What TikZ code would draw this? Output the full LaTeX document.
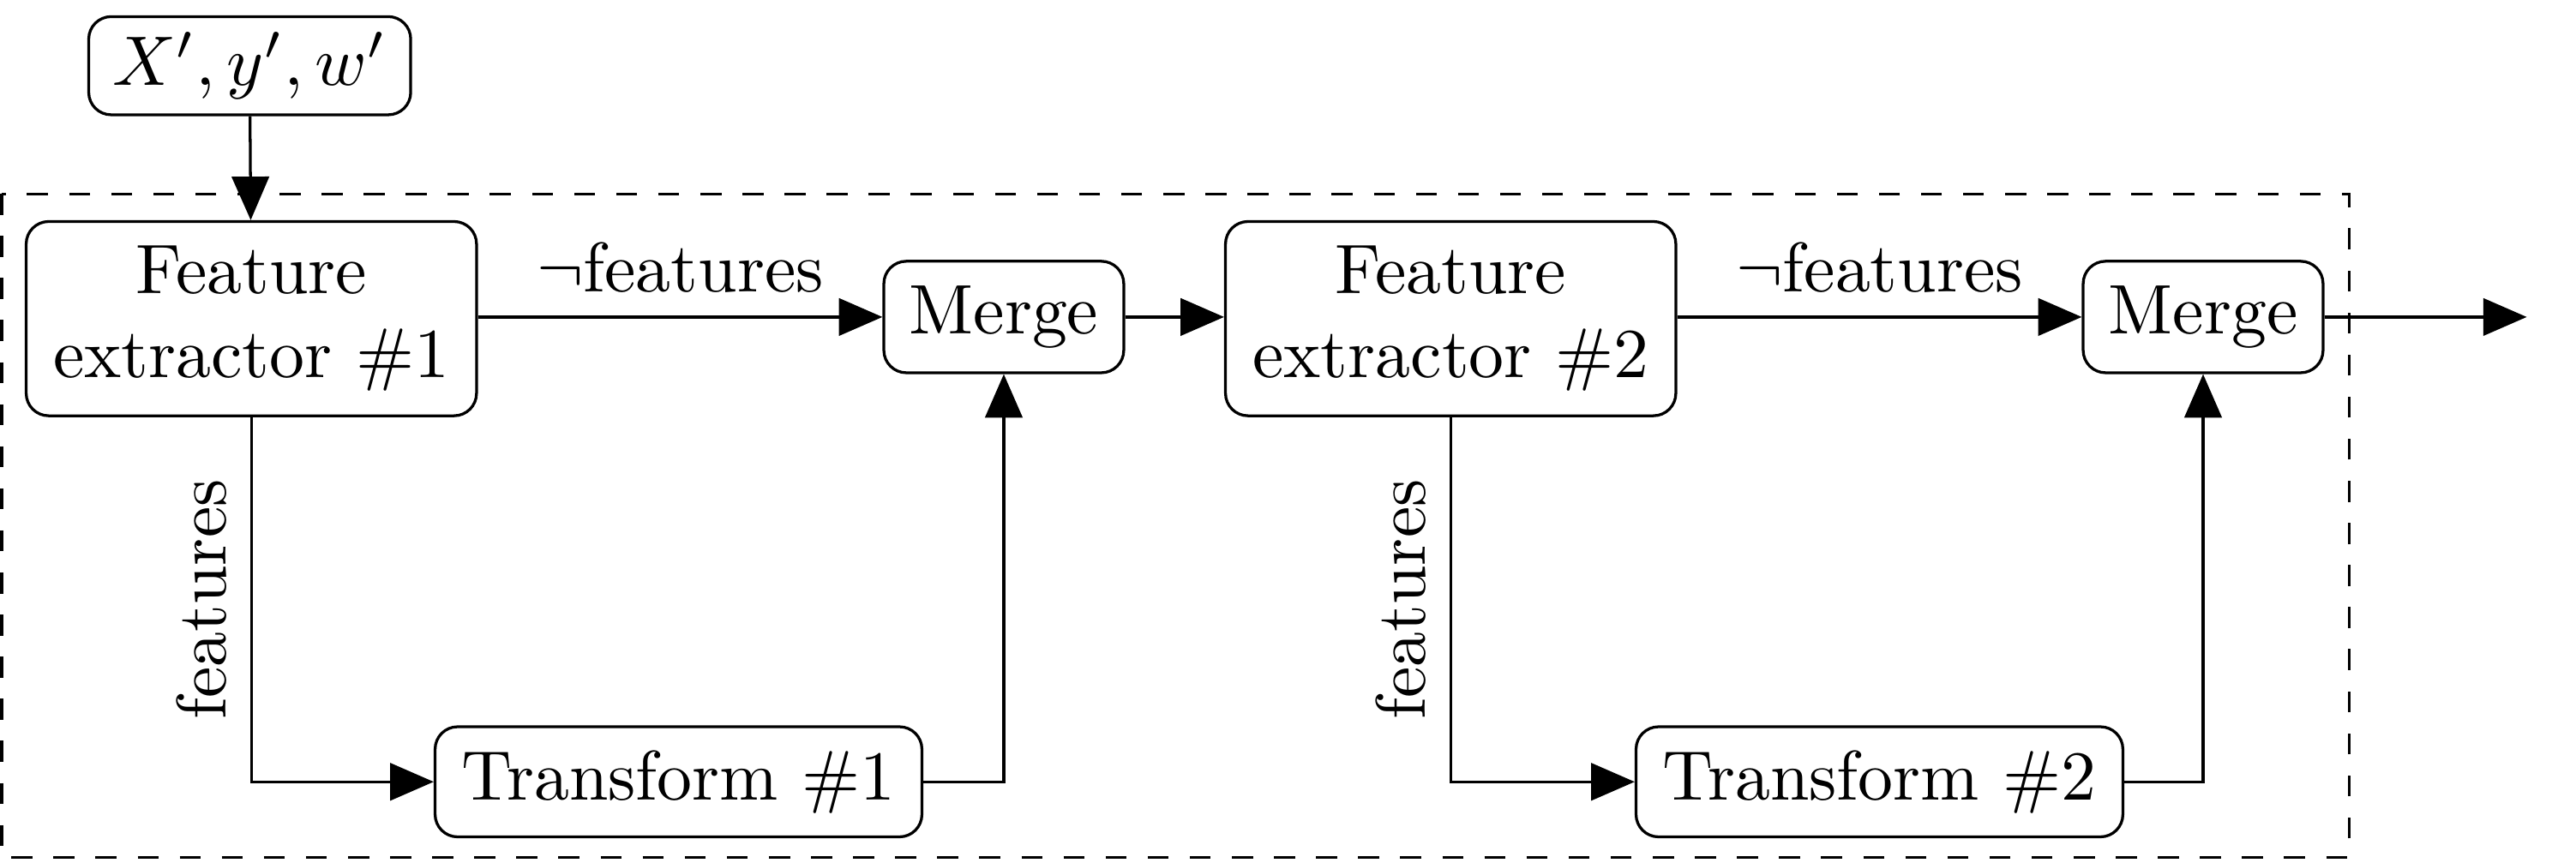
\documentclass[tikz,border=0pt]{standalone}
\usetikzlibrary{arrows.meta}
\begin{document}
\begin{tikzpicture}[x=0.2342pt,y=-0.2342pt,
  box/.style={draw, rounded corners=3.2pt, align=center, inner sep=0pt},
  febox/.style={box, minimum width=64.2pt, minimum height=27.7pt},
  mbox/.style={box, minimum width=34.2pt, minimum height=15.9pt},
  tbox/.style={box, minimum width=69.4pt, minimum height=15.7pt},
  conn/.style={-{Triangle[length=6.2pt,width=5.3pt]}},
]
\useasboundingbox (0,0) rectangle (1568,525);
\draw[dashed] (1,118) rectangle (1430,522);

\node[box, minimum width=45.9pt, minimum height=14pt] (in) at (152,40) {$X',y',w'$};
\node[febox] (fe1) at (153,194) {Feature\\extractor \#1};
\node[mbox] (m1) at (611,193) {Merge};
\node[tbox] (t1) at (413,476) {Transform \#1};
\node[febox] (fe2) at (883,194) {Feature\\extractor \#2};
\node[mbox] (m2) at (1341,193) {Merge};
\node[tbox] (t2) at (1144,476) {Transform \#2};
\coordinate (out) at (1538,193);

\draw[conn] (in) -- (fe1);
\draw[conn] (fe1.east |- m1.west) -- node[above]{$\neg$features} (m1.west);
\draw[conn] (fe1.south) -- node[rotate=90, anchor=south]{features} (fe1.south |- t1.west) -- (t1.west);
\draw[conn] (t1.east) -| (m1.south);
\draw[conn] (m1.east) -- (fe2.west |- m1.east);
\draw[conn] (fe2.east |- m2.west) -- node[above]{$\neg$features} (m2.west);
\draw[conn] (fe2.south) -- node[rotate=90, anchor=south]{features} (fe2.south |- t2.west) -- (t2.west);
\draw[conn] (t2.east) -| (m2.south);
\draw[conn] (m2.east) -- (out);
\end{tikzpicture}
\end{document}
